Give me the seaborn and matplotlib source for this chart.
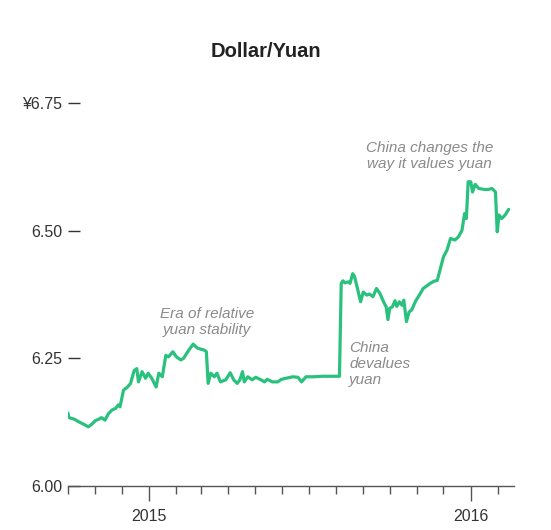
import pandas as pd
import matplotlib
matplotlib.use("Agg")
import matplotlib.pyplot as plt
import matplotlib.dates as mdates
import seaborn as sns

# -----------------------------------------------
# DATA
# -----------------------------------------------

dates = [
    "2014-10-01", "2014-10-02", "2014-10-08", "2014-10-13", "2014-10-21", "2014-10-24",
    "2014-10-28", "2014-11-01", "2014-11-05", "2014-11-08", "2014-11-12", "2014-11-16",
    "2014-11-20", "2014-11-24", "2014-11-27", "2014-11-29", "2014-12-03", "2014-12-07",
    "2014-12-11", "2014-12-15", "2014-12-18", "2014-12-20", "2014-12-24", "2014-12-28",
    "2014-12-31", "2015-01-04", "2015-01-09", "2015-01-12", "2015-01-16", "2015-01-20",
    "2015-01-23", "2015-01-28", "2015-02-01", "2015-02-06", "2015-02-09", "2015-02-15",
    "2015-02-20", "2015-02-25", "2015-03-01", "2015-03-05", "2015-03-07", "2015-03-09",
    "2015-03-12", "2015-03-16", "2015-03-19", "2015-03-23", "2015-03-29", "2015-04-03",
    "2015-04-07", "2015-04-11", "2015-04-14", "2015-04-17", "2015-04-19", "2015-04-23",
    "2015-04-28", "2015-05-02", "2015-05-08", "2015-05-12", "2015-05-15", "2015-05-21",
    "2015-05-27", "2015-05-31", "2015-06-05", "2015-06-13", "2015-06-19", "2015-06-23",
    "2015-06-28", "2015-07-06", "2015-07-17", "2015-08-01", "2015-08-05", "2015-08-07",
    "2015-08-09", "2015-08-11", "2015-08-15", "2015-08-17", "2015-08-20", "2015-08-22",
    "2015-08-25", "2015-08-29", "2015-09-01", "2015-09-05", "2015-09-08", "2015-09-12",
    "2015-09-16", "2015-09-20", "2015-09-24", "2015-09-27", "2015-09-29", "2015-10-01",
    "2015-10-04", "2015-10-07", "2015-10-09", "2015-10-12", "2015-10-15", "2015-10-17",
    "2015-10-20", "2015-10-23", "2015-10-26", "2015-10-30", "2015-11-05", "2015-11-08",
    "2015-11-12", "2015-11-16", "2015-11-20", "2015-11-24", "2015-11-27", "2015-12-01",
    "2015-12-05", "2015-12-09", "2015-12-14", "2015-12-18", "2015-12-22", "2015-12-25",
    "2015-12-27", "2015-12-29", "2016-01-01", "2016-01-03", "2016-01-06", "2016-01-10",
    "2016-01-16", "2016-01-21", "2016-01-25", "2016-01-29", "2016-01-31", "2016-02-02",
    "2016-02-05", "2016-02-09", "2016-02-13",
]

rate = [
    6.143, 6.134, 6.131, 6.126, 6.119, 6.116,
    6.121, 6.128, 6.131, 6.134, 6.129, 6.142,
    6.149, 6.152, 6.159, 6.155, 6.188, 6.193,
    6.201, 6.226, 6.230, 6.204, 6.224, 6.211,
    6.221, 6.211, 6.194, 6.221, 6.214, 6.256,
    6.253, 6.263, 6.253, 6.247, 6.250, 6.266,
    6.278, 6.270, 6.268, 6.266, 6.263, 6.201,
    6.221, 6.214, 6.221, 6.204, 6.208, 6.222,
    6.208, 6.201, 6.208, 6.224, 6.204, 6.214,
    6.208, 6.213, 6.208, 6.204, 6.209, 6.204,
    6.204, 6.209, 6.211, 6.214, 6.213, 6.204,
    6.214, 6.214, 6.215, 6.215, 6.215, 6.397,
    6.402, 6.398, 6.400, 6.397, 6.416, 6.411,
    6.390, 6.361, 6.380, 6.374, 6.376, 6.371,
    6.387, 6.377, 6.361, 6.351, 6.326, 6.348,
    6.351, 6.363, 6.352, 6.361, 6.354, 6.364,
    6.322, 6.341, 6.345, 6.361, 6.378, 6.387,
    6.392, 6.397, 6.401, 6.403, 6.423, 6.449,
    6.462, 6.485, 6.482, 6.488, 6.501, 6.534,
    6.524, 6.596, 6.596, 6.576, 6.591, 6.583,
    6.581, 6.581, 6.583, 6.576, 6.498, 6.531,
    6.524, 6.531, 6.542,
]

y_ticks = [6.00, 6.25, 6.50, 6.75]
y_tick_labels = ["6.00", "6.25", "6.50", "¥6.75"]

notes = [
    ("Era of relative\nyuan stability", "2015-03-08", 6.321, "center"),
    ("China\ndevalues\nyuan", "2015-08-16", 6.239, "left"),
    ("China changes the\nway it values yuan", "2015-11-15", 6.646, "center"),
]

df = pd.DataFrame({"date": pd.to_datetime(dates), "rate": rate})

# -----------------------------------------------
# PLOT
# -----------------------------------------------

sns.set_style("white")
plt.rcParams["font.family"] = ["Liberation Sans", "DejaVu Sans"]

fig = plt.figure(figsize=(5.51, 5.30), dpi=100)
ax = fig.add_axes([0.1234, 0.083, 0.8094, 0.7223])

sns.lineplot(data=df, x="date", y="rate", color="#2ac17e", linewidth=2.3, ax=ax)

ax.set_xlim(pd.Timestamp("2014-10-01"), pd.Timestamp("2016-02-19"))
ax.set_ylim(6.0, 6.75)

ax.xaxis.set_major_locator(mdates.YearLocator())
ax.xaxis.set_major_formatter(mdates.DateFormatter("%Y"))
ax.xaxis.set_minor_locator(mdates.MonthLocator())
ax.tick_params(axis="x", which="both", bottom=True)
ax.tick_params(axis="x", which="major", direction="out", length=10.8, width=1.0,
               color="#555555", pad=5.5, labelsize=11.5, labelcolor="#333333")
ax.tick_params(axis="x", which="minor", direction="out", length=5.6, width=1.0,
               color="#555555")

ax.set_yticks(y_ticks)
ax.set_yticklabels(y_tick_labels)
ax.tick_params(axis="y", left=True, direction="in", length=8.6, width=1.0,
               color="#333333", pad=4.3, labelsize=11.5, labelcolor="#333333")

for side in ["top", "right", "left"]:
    ax.spines[side].set_visible(False)
ax.spines["bottom"].set_color("#555555")
ax.spines["bottom"].set_linewidth(1.0)

ax.set_xlabel("")
ax.set_ylabel("")

for text, when, yval, align in notes:
    ax.text(pd.Timestamp(when), yval, text, ha=align, va="center", style="italic",
            fontsize=11, color="#8a8a8a", linespacing=1.15)

fig.text(0.483, 0.902, "Dollar/Yuan", ha="center", va="center",
         fontsize=14.5, fontweight="bold", color="#222222")

plt.savefig("out.png", dpi=100)
